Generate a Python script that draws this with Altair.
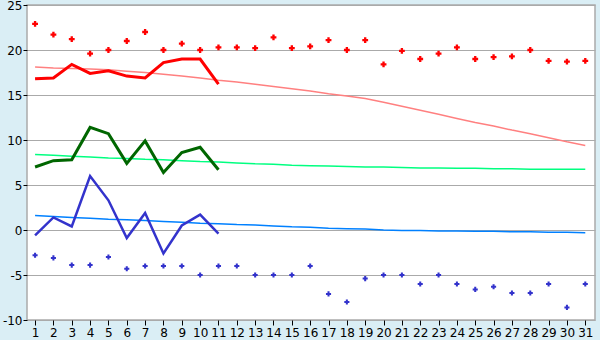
import altair as alt
import pandas as pd

days = list(range(1, 32))

max_points = [22.9, 21.7, 21.2, 19.6, 20.0, 21.0, 22.0, 20.0, 20.7, 20.0,
              20.3, 20.3, 20.2, 21.4, 20.2, 20.4, 21.1, 20.0, 21.1, 18.4,
              19.9, 19.0, 19.6, 20.3, 19.0, 19.2, 19.3, 20.0, 18.8, 18.7, 18.8]
min_points = [-2.8, -3.1, -3.9, -3.9, -3.0, -4.3, -4.0, -4.0, -4.0, -5.0,
              -4.0, -4.0, -5.0, -5.0, -5.0, -4.0, -7.1, -8.0, -5.4, -5.0,
              -5.0, -6.0, -5.0, -6.0, -6.6, -6.3, -7.0, -7.0, -6.0, -8.6, -6.0]

max_line = [16.8, 16.9, 18.4, 17.4, 17.7, 17.1, 16.9, 18.6, 19.0, 19.0, 16.2]
mean_line = [7.0, 7.7, 7.8, 11.4, 10.7, 7.4, 9.9, 6.4, 8.6, 9.2, 6.7]
min_line = [-0.6, 1.4, 0.4, 6.0, 3.3, -0.9, 1.9, -2.6, 0.5, 1.7, -0.4]

max_trend = [18.1, 18.0, 17.95, 17.9, 17.8, 17.65, 17.5, 17.3, 17.1, 16.9,
             16.65, 16.45, 16.2, 15.95, 15.7, 15.45, 15.15, 14.9, 14.6, 14.2,
             13.75, 13.3, 12.85, 12.4, 11.95, 11.55, 11.1, 10.7, 10.25, 9.8, 9.4]
mean_trend = [8.4, 8.3, 8.2, 8.1, 8.0, 7.95, 7.85, 7.8, 7.7, 7.6,
              7.55, 7.45, 7.35, 7.3, 7.2, 7.15, 7.1, 7.05, 7.0, 7.0,
              6.95, 6.9, 6.9, 6.85, 6.85, 6.8, 6.8, 6.75, 6.75, 6.75, 6.75]
min_trend = [1.6, 1.5, 1.4, 1.3, 1.2, 1.15, 1.05, 0.95, 0.85, 0.75,
             0.7, 0.6, 0.55, 0.45, 0.35, 0.3, 0.2, 0.15, 0.1, 0.0,
             -0.05, -0.05, -0.1, -0.1, -0.15, -0.15, -0.2, -0.2, -0.25, -0.25, -0.3]

def frame(vals, name):
    return pd.DataFrame({"day": days[:len(vals)], "value": vals, "series": name})

x_enc = alt.X("day:Q", scale=alt.Scale(domain=[0.56, 31.53], nice=False, zero=False),
              axis=alt.Axis(values=days, title=None, grid=False, tickSize=5, labelPadding=2,
                            labelFontSize=12, tickColor="black", domain=False,
                            labelColor="black", labelFont="DejaVu Sans", labelFlush=False))
y_enc = alt.Y("value:Q", scale=alt.Scale(domain=[-10, 25], nice=False, zero=False),
              axis=alt.Axis(values=list(range(-10, 30, 5)), title=None, grid=True,
                            gridColor="#aaaaaa", gridWidth=1, tickSize=4, labelPadding=1,
                            labelFontSize=12, tickColor="black", domain=False,
                            labelExpr="replace(datum.label, '\u2212', '-')",
                            labelColor="black", labelFont="DejaVu Sans", labelFlush=False))

def line(vals, color, width):
    return alt.Chart(frame(vals, color)).mark_line(color=color, strokeWidth=width,
                                                   interpolate="linear").encode(x=x_enc, y=y_enc)

def pts(vals, color, size):
    return alt.Chart(frame(vals, color)).mark_point(shape="cross", filled=True, color=color,
                                                    size=size, opacity=1).encode(x=x_enc, y=y_enc)

chart = alt.layer(
    line(max_trend, "#ff8080", 1.5),
    line(mean_trend, "#00ff80", 1.5),
    line(min_trend, "#0080ff", 1.5),
    line(max_line, "#ff0000", 3),
    line(mean_line, "#006600", 3),
    line(min_line, "#3333cc", 2.5),
    pts(max_points, "#ff0000", 34),
    pts(min_points, "#3333cc", 26),
).properties(
    width=568, height=315,
    autosize=alt.AutoSizeParams(type="none"),
    padding={"left": 27, "top": 5, "right": 5, "bottom": 20},
    background="#daeef5",
).configure_view(
    stroke="#aaaaaa", strokeWidth=1.5, fill="white"
)

chart.save("out.html", embed_options={"renderer": "svg", "actions": False})
